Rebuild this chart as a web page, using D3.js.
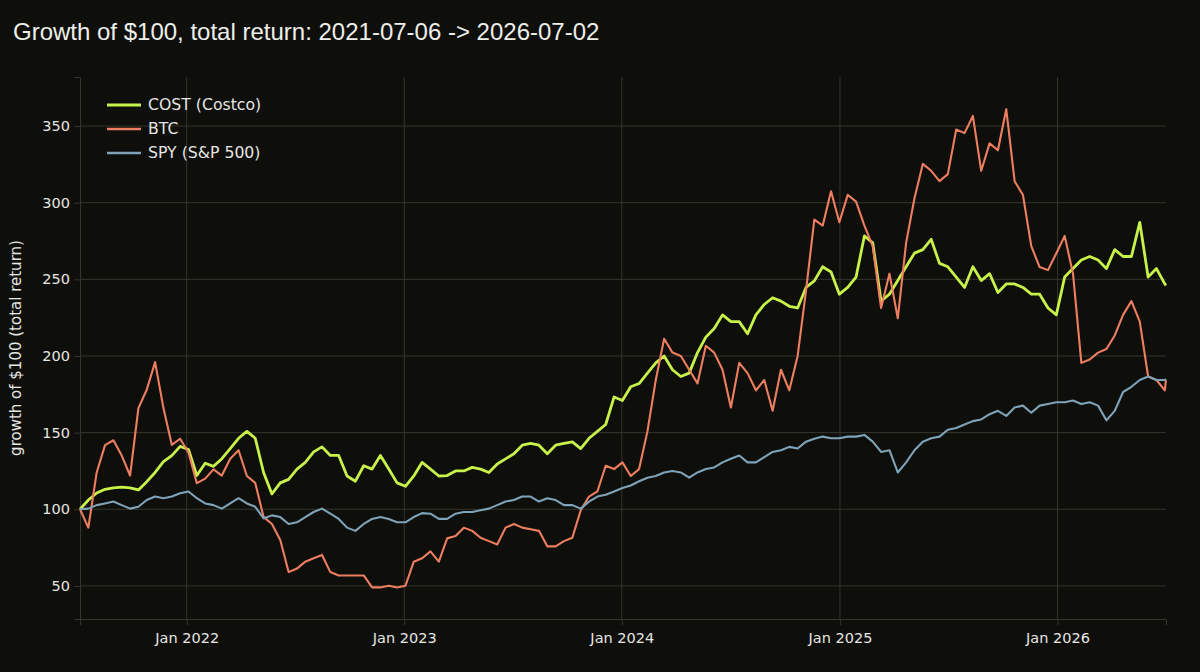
<!DOCTYPE html>
<html>
<head>
<meta charset="utf-8">
<script src="https://cdn.jsdelivr.net/npm/d3@7"></script>
<style>
  html, body { margin: 0; padding: 0; background: #0e0e0b; }
  svg { display: block; }
</style>
</head>
<body>
<svg id="chart" width="1200" height="672"></svg>
<script>
// ---- data ----
const startDate = "2021-07-06";
const endDate = "2026-07-02";
const stepDays = 14; // sampling interval of the series below (last value = endDate)
const seriesNames = ["COST (Costco)", "BTC", "SPY (S&P 500)"];
const costValues = [100,106,110.6,113,114,114.5,114,112.6,118,124,131,135,141,139,122,130,128,133,139.6,146.3,150.8,146.3,124,110,117.2,119.5,126.2,130.6,137.4,140.7,135.1,135.1,121.7,118.3,128.4,126.2,135.1,126.2,117.2,115,121.7,130.6,126.2,121.7,122,125,125,127.3,126.2,124,129.5,132.9,136.2,141.8,143,141.8,136.2,141.8,143,144,139.6,146.3,150.8,155.3,173.2,170.9,179.9,182,188.8,195.5,200,191,186.6,188.8,202.2,212.3,217.9,226.8,222.4,222.4,214.5,226.8,233.6,238,235.8,232.4,231.3,244.7,249,258.2,254.8,240.3,244.7,251.5,278.3,273.8,235.8,240.3,249.2,258.2,267.1,269.4,276.1,260.4,258.2,251.5,244.7,258.2,249.2,253.7,241.4,247,247,244.7,240.3,240.3,231.3,226.8,251.5,257,262.6,264.9,262.6,257,269.4,264.9,264.9,287.2,251.5,257,247,246];
const btcValues = [100,88,124,141.8,145,135,122,166,178,196,166,142,146,137,117,120,126,122,133,138.5,121.7,117.2,95,90.4,80,59,61.3,65.8,68,70.2,59,56.8,56.8,56.8,56.8,49,49,50.1,49,50.1,65.8,68,72.5,65.8,81,82.5,88,85.9,81.4,79.2,77,88,90.4,88,87,85.9,75.8,75.8,79.2,81.4,99.3,108.3,111.6,128.4,126.2,130.6,121.7,126.2,150.8,184.3,211.2,202.2,200,191,182.1,206.7,202.2,191,166.4,195.5,188.8,177.6,184.3,164.2,191,177.6,200,242.5,289,285,307.4,287.2,305.1,300.7,285,271.6,231.3,253.7,224.6,273.8,302.9,325.3,320.8,314.1,318.6,347.7,345.4,356.6,320.8,338.7,334.2,361,314,305,271.6,258,256,267,278.3,253.7,195.5,197.7,202.2,204.5,213.4,226.8,235.8,222.4,186.6,184.3,177.6,184.3];
const spyValues = [100,100.4,102.7,103.8,105,102.7,100.4,101.6,106,108.3,107.2,108.3,110.5,111.6,107.2,103.8,102.7,100.4,103.8,107.2,103.8,101.6,94,96,94.9,90.4,91.5,94.9,98.2,100.4,97.1,93.7,88,85.9,90.4,93.7,94.9,93.7,91.5,91.5,94.9,97.5,97.1,93.7,93.7,97.1,98.2,98.2,99.3,100.4,102.7,105,106,108.3,108.3,105,107.2,106,102.7,102.7,100.4,105,108.3,109.4,111.6,113.9,115.5,118.3,120.6,121.7,124,125,124,120.6,124,126.2,127.3,130.6,132.9,135.1,130.6,130.6,134,137.4,138.5,140.7,139.6,144.1,146,147.4,146.3,146.3,147.4,147.4,148.5,144.1,137.4,138.5,124,130.6,138.5,144.1,146.3,147.4,151.9,153,155.3,157.5,158.6,162,164.2,160.9,166.4,167.6,163,167.6,168.7,169.8,169.8,170.9,168.7,169.8,167.6,158,164.2,176.5,179.9,184.3,186.6,184.3,184.3,185];
const yTicks = [50, 100, 150, 200, 250, 300, 350];
const xTickDates = ["2022-01-01", "2023-01-01", "2024-01-01", "2025-01-01", "2026-01-01"];
const titleText = "Growth of $100, total return: 2021-07-06 -> 2026-07-02";
const yAxisTitle = "growth of $100 (total return)";

// ---- styling ----
const colors = ["#c8f24a", "#ee7e60", "#7fa3b8"];
const widths = [2.8, 2.1, 2.1];
const gridColor = "#35352d";
const textColor = "#e6e6e2";
const W = 1200, H = 672;
const M = {left: 80, right: 34, top: 77, bottom: 53};

const parse = d3.timeParse("%Y-%m-%d");
const t0 = parse(startDate), t1 = parse(endDate);
const n = costValues.length;
const dates = d3.range(n).map(i => i === n - 1 ? t1 : d3.timeDay.offset(t0, i * stepDays));

const svg = d3.select("#chart");
svg.append("rect").attr("width", W).attr("height", H).attr("fill", "#0e0e0b");

const x = d3.scaleTime().domain([t0, t1]).range([M.left, W - M.right]);
const y = d3.scaleLinear().domain([28.4, 382]).range([H - M.bottom, M.top]);

// gridlines
const g = svg.append("g");
g.selectAll(".hg").data(yTicks).join("line")
  .attr("x1", M.left).attr("x2", W - M.right)
  .attr("y1", d => y(d)).attr("y2", d => y(d))
  .attr("stroke", gridColor).attr("stroke-width", 1);
g.selectAll(".vg").data(xTickDates.map(parse)).join("line")
  .attr("y1", M.top).attr("y2", H - M.bottom)
  .attr("x1", d => x(d)).attr("x2", d => x(d))
  .attr("stroke", gridColor).attr("stroke-width", 1);

// axes
const yAxis = d3.axisLeft(y).tickValues(yTicks).tickSize(6).tickPadding(4);
const xAxis = d3.axisBottom(x).tickValues(xTickDates.map(parse)).tickFormat(d3.timeFormat("%b %Y")).tickSize(6).tickPadding(8);

const ya = svg.append("g").attr("transform", `translate(${M.left},0)`).call(yAxis);
const xa = svg.append("g").attr("transform", `translate(0,${H - M.bottom})`).call(xAxis);
[ya, xa].forEach(a => {
  a.selectAll("path").attr("stroke", gridColor);
  a.selectAll("line").attr("stroke", gridColor);
  a.selectAll("text").attr("fill", textColor).attr("font-family", "DejaVu Sans").attr("font-size", 14.5);
});

// lines
const lineGen = d3.line().x((d, i) => x(dates[i])).y(d => y(d));
const allSeries = [costValues, btcValues, spyValues];
svg.append("g").selectAll("path").data(allSeries).join("path")
  .attr("d", d => lineGen(d))
  .attr("fill", "none")
  .attr("stroke", (d, i) => colors[i])
  .attr("stroke-width", (d, i) => widths[i])
  .attr("stroke-linejoin", "round");

// legend
const lg = svg.append("g");
const legY = [105, 129, 153];
seriesNames.forEach((name, i) => {
  lg.append("line").attr("x1", 107).attr("x2", 141).attr("y1", legY[i]).attr("y2", legY[i])
    .attr("stroke", colors[i]).attr("stroke-width", widths[i] + 0.4);
  lg.append("text").attr("x", 148).attr("y", legY[i]).attr("dy", "0.35em")
    .attr("fill", textColor).attr("font-family", "DejaVu Sans").attr("font-size", 15.7).text(name);
});

// title
svg.append("text").attr("x", 13).attr("y", 40)
  .attr("fill", "#eeeeea").attr("font-family", "Liberation Sans, Arial, sans-serif").attr("font-size", 24)
  .text(titleText);

// y axis title
svg.append("text")
  .attr("transform", `translate(21,${(M.top + H - M.bottom) / 2}) rotate(-90)`)
  .attr("text-anchor", "middle")
  .attr("fill", textColor).attr("font-family", "DejaVu Sans").attr("font-size", 15)
  .text(yAxisTitle);
</script>
</body>
</html>
